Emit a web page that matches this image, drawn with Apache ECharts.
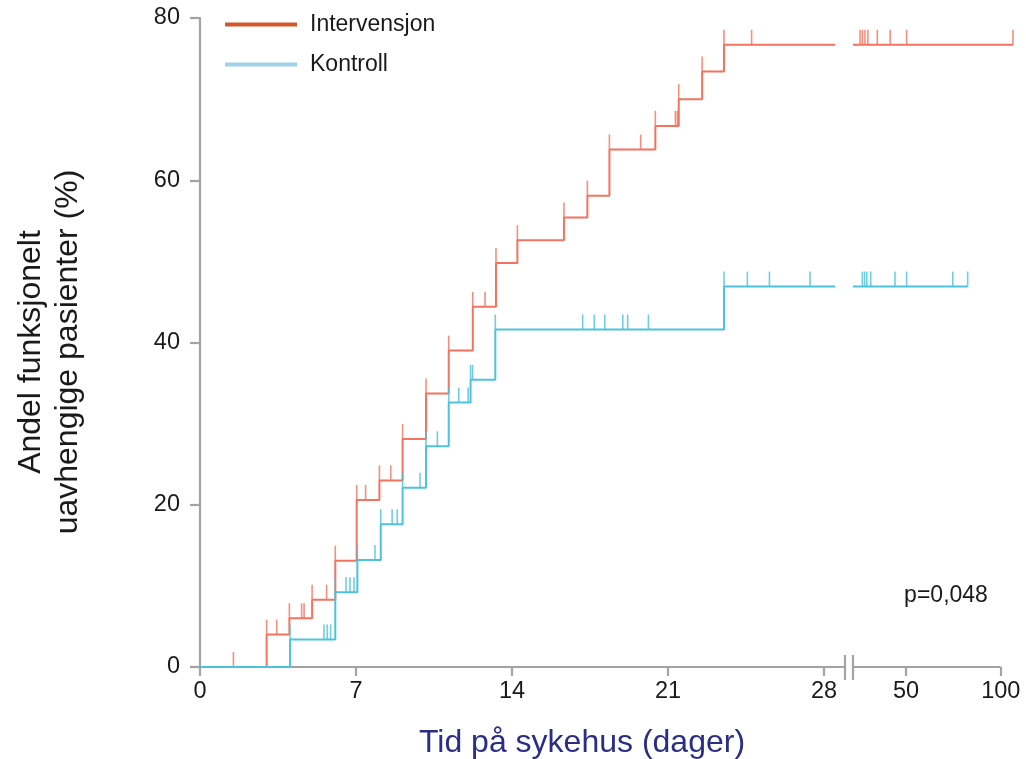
<!DOCTYPE html>
<html>
<head>
<meta charset="utf-8">
<script src="https://cdn.jsdelivr.net/npm/echarts@6/dist/echarts.min.js"></script>
<style>
html,body{margin:0;padding:0;background:#fff;}
#chart{width:1026px;height:759px;}
</style>
</head>
<body>
<div id="chart"></div>
<script>
// ---- data (days on sykehus, % functionally independent) ----
const xTicks = [0, 7, 14, 21, 28];
const xTicksLate = [50, 100];
const yTicks = [0, 20, 40, 60, 80];

// Intervensjon: step times (days) and cumulative levels (%)
const intervTimes  = [0, 2.99, 4.01, 5.03, 6.07, 7.03, 8.05, 9.09, 10.14, 11.16, 12.24, 13.28, 14.24, 16.33, 17.38, 18.37, 20.43, 21.48, 22.53, 23.51, 28.5];
const intervLevels = [0, 4.0, 6.0, 8.3, 13.1, 20.6, 23.0, 28.1, 33.7, 39.0, 44.4, 49.8, 52.6, 55.4, 58.1, 63.8, 66.7, 70.0, 73.4, 76.7, 76.7];
const intervCensor = [1.5, 3.44, 4.56, 4.67, 5.68, 7.43, 8.56, 12.79, 19.77, 21.33, 21.42, 24.75];
const intervLateCensor = [35.7, 36.3, 37.0, 37.8, 40.5, 44.5, 50.2, 109.4];
const intervLateSpan = [33.9, 109.4];

// Kontroll
const kontrollTimes  = [0, 4.04, 6.07, 7.06, 8.11, 9.09, 10.14, 11.16, 12.14, 13.25, 23.51, 28.5];
const kontrollLevels = [0, 3.4, 9.2, 13.2, 17.6, 22.1, 27.2, 32.6, 35.4, 41.6, 46.9, 46.9];
const kontrollCensor = [5.56, 5.71, 5.86, 6.55, 6.73, 6.91, 7.85, 8.62, 8.85, 9.87, 10.65, 11.61, 12.03, 12.23, 17.17, 17.69, 18.16, 18.97, 19.19, 20.12, 24.56, 25.55, 27.37];
const kontrollLateCensor = [36.3, 36.9, 37.5, 38.6, 46.1, 50.2, 70.4, 78.5];
const kontrollLateSpan = [33.9, 78.5];

// axis extents (days)
const earlyMax = 28.94;
const lateMin = 33.9, lateAxisEnd = 100, lateMax = 109.4;

// ---- helpers building series data from the arrays ----
function levelAt(times, levels, t) {
  let v = levels[0];
  for (let i = 0; i < times.length; i++) { if (times[i] <= t + 1e-9) v = levels[i]; }
  return v;
}
function stepData(times, levels) { return times.map((t, i) => [t, levels[i]]); }
function tickData(times, levels, censor) {
  const stepTicks = times.slice(1, times.length - 1);
  return stepTicks.concat(censor).map(t => [t, levelAt(times, levels, t)]);
}
function lateLine(span, levels) { const l = levels[levels.length - 1]; return span.map(t => [t, l]); }
function lateTicks(censor, levels) { const l = levels[levels.length - 1]; return censor.map(t => [t, l]); }

const RED = '#f2735f', BLUE = '#4cc2dc';
const AXIS = '#a3a3a3';
const FONT = "'Liberation Sans', Arial, sans-serif";
const tickSym = { symbol: 'rect', symbolSize: [1.6, 15], symbolOffset: [0, -7.5] };

const chart = echarts.init(document.getElementById('chart'), null, { renderer: 'canvas' });

const option = {
  animation: false,
  backgroundColor: '#fff',
  textStyle: { fontFamily: FONT },
  grid: [
    { left: 200, right: 181, top: 18, bottom: 92 },
    { left: 853, right: 13, top: 18, bottom: 92 }
  ],
  xAxis: [
    {
      gridIndex: 0, type: 'value', min: 0, max: earlyMax,
      axisLine: { lineStyle: { color: AXIS, width: 2.2 } },
      axisTick: { length: 9, lineStyle: { color: AXIS, width: 2.2 }, customValues: xTicks },
      axisLabel: { customValues: xTicks, color: '#1a1a1a', fontSize: 23.5, margin: 13, fontFamily: FONT },
      splitLine: { show: false }
    },
    {
      gridIndex: 1, type: 'log', logBase: 10, min: lateMin, max: lateMax,
      axisLine: { show: false },
      axisTick: { length: 9, lineStyle: { color: AXIS, width: 2.2 }, customValues: xTicksLate },
      axisLabel: { customValues: xTicksLate, color: '#1a1a1a', fontSize: 23.5, margin: 13, fontFamily: FONT },
      splitLine: { show: false }, minorTick: { show: false }
    }
  ],
  yAxis: [
    {
      gridIndex: 0, type: 'value', min: 0, max: 80, interval: 20,
      axisLine: { show: true, lineStyle: { color: AXIS, width: 2.2 } },
      axisTick: { show: true, length: 10, lineStyle: { color: AXIS, width: 2.2 } },
      axisLabel: { color: '#1a1a1a', fontSize: 23.5, margin: 20, fontFamily: FONT },
      splitLine: { show: false }
    },
    { gridIndex: 1, type: 'value', min: 0, max: 80, show: false, splitLine: { show: false } }
  ],
  legend: {
    left: 220, top: 8, orient: 'vertical', itemGap: 17,
    itemWidth: 72, itemHeight: 4, icon: 'rect',
    textStyle: { fontSize: 23, color: '#1a1a1a', fontFamily: FONT, padding: [0, 0, 0, 8] },
    data: [
      { name: 'Intervensjon', icon: 'rect', itemStyle: { color: '#d2582c' } },
      { name: 'Kontroll', icon: 'rect', itemStyle: { color: '#9fd2ea' } }
    ]
  },
  title: {
    text: 'Tid på sykehus (dager)', left: 577, top: 722, textAlign: 'center',
    textStyle: { color: '#2b2d86', fontSize: 32, fontWeight: 'normal', fontFamily: FONT }
  },
  series: [
    { name: 'Intervensjon', type: 'line', step: 'end', xAxisIndex: 0, yAxisIndex: 0, showSymbol: false,
      lineStyle: { color: RED, width: 2 }, itemStyle: { color: RED }, data: stepData(intervTimes, intervLevels), z: 3 },
    { name: 'Intervensjon', type: 'scatter', xAxisIndex: 0, yAxisIndex: 0, ...tickSym, clip: false,
      itemStyle: { color: RED }, data: tickData(intervTimes, intervLevels, intervCensor), z: 3 },
    { name: 'Intervensjon', type: 'line', xAxisIndex: 1, yAxisIndex: 1, showSymbol: false, clip: false,
      lineStyle: { color: RED, width: 2 }, itemStyle: { color: RED }, data: lateLine(intervLateSpan, intervLevels), z: 3 },
    { name: 'Intervensjon', type: 'scatter', xAxisIndex: 1, yAxisIndex: 1, ...tickSym, clip: false,
      itemStyle: { color: RED }, data: lateTicks(intervLateCensor, intervLevels), z: 3 },

    { name: 'Kontroll', type: 'line', step: 'end', xAxisIndex: 0, yAxisIndex: 0, showSymbol: false,
      lineStyle: { color: BLUE, width: 2 }, itemStyle: { color: BLUE }, data: stepData(kontrollTimes, kontrollLevels), z: 4 },
    { name: 'Kontroll', type: 'scatter', xAxisIndex: 0, yAxisIndex: 0, ...tickSym, clip: false,
      itemStyle: { color: BLUE }, data: tickData(kontrollTimes, kontrollLevels, kontrollCensor), z: 4 },
    { name: 'Kontroll', type: 'line', xAxisIndex: 1, yAxisIndex: 1, showSymbol: false, clip: false,
      lineStyle: { color: BLUE, width: 2 }, itemStyle: { color: BLUE }, data: lateLine(kontrollLateSpan, kontrollLevels), z: 4 },
    { name: 'Kontroll', type: 'scatter', xAxisIndex: 1, yAxisIndex: 1, ...tickSym, clip: false,
      itemStyle: { color: BLUE }, data: lateTicks(kontrollLateCensor, kontrollLevels), z: 4 }
  ]
};
chart.setOption(option);

// axis line of the post-break segment and the break marks, placed via the library's scales
const xA = chart.convertToPixel({ xAxisIndex: 1 }, lateMin);
const xB = chart.convertToPixel({ xAxisIndex: 1 }, lateAxisEnd);
const xE = chart.convertToPixel({ xAxisIndex: 0 }, earlyMax);
const y0 = chart.convertToPixel({ yAxisIndex: 0 }, 0);
chart.setOption({
  graphic: [
    { type: 'text', x: 50, y: 352, rotation: Math.PI / 2,
      style: { text: 'Andel funksjonelt\nuavhengige pasienter (%)', align: 'center', verticalAlign: 'middle',
               font: "32px 'Liberation Sans', Arial, sans-serif", fill: '#1a1a1a', lineHeight: 37 } },
    { type: 'text', x: 946, y: 596,
      style: { text: 'p=0,048', align: 'center', verticalAlign: 'middle',
               font: "23px 'Liberation Sans', Arial, sans-serif", fill: '#1a1a1a' } },
    { type: 'line', z: 1, shape: { x1: xA, y1: y0, x2: xB, y2: y0 }, style: { stroke: AXIS, lineWidth: 2.2 } },
    { type: 'line', shape: { x1: xE, y1: y0 - 12, x2: xE, y2: y0 + 13 }, style: { stroke: AXIS, lineWidth: 2.2 } },
    { type: 'line', shape: { x1: xA, y1: y0 - 12, x2: xA, y2: y0 + 13 }, style: { stroke: AXIS, lineWidth: 2.2 } }
  ]
});
</script>
</body>
</html>
